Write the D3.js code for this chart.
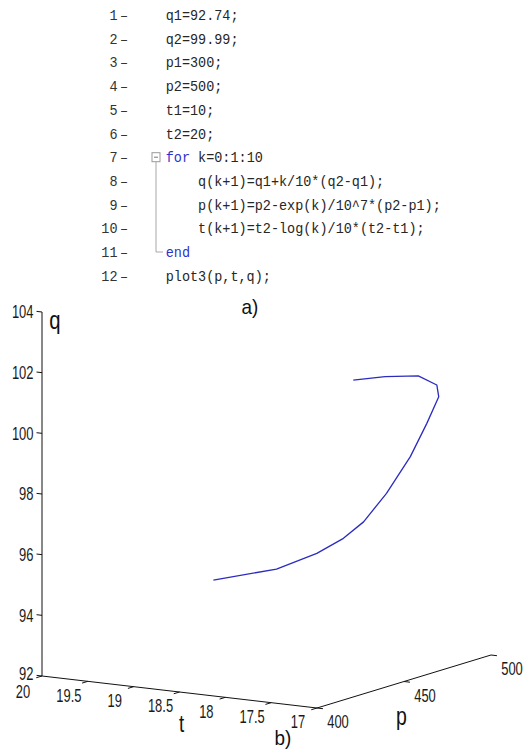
<!DOCTYPE html>
<html>
<head>
<meta charset="utf-8">
<script src="https://cdn.jsdelivr.net/npm/d3@7/dist/d3.min.js"></script>
<style>
  html, body { margin: 0; padding: 0; background: #fff; }
  svg { display: block; }
</style>
</head>
<body>
<script>
// ---- MATLAB listing (line text, keyword segments flagged) ----
const codeLines = [
  [["q1=92.74;", false]],
  [["q2=99.99;", false]],
  [["p1=300;", false]],
  [["p2=500;", false]],
  [["t1=10;", false]],
  [["t2=20;", false]],
  [["for", true], [" k=0:1:10", false]],
  [["    q(k+1)=q1+k/10*(q2-q1);", false]],
  [["    p(k+1)=p2-exp(k)/10^7*(p2-p1);", false]],
  [["    t(k+1)=t2-log(k)/10*(t2-t1);", false]],
  [["end", true]],
  [["plot3(p,t,q);", false]]
];

// ---- plotted trajectory (p, t, q) ----
const pVals = [498.5, 500, 500, 500, 500, 500, 500, 500, 500, 495.2, 481.9, 460.2, 439.3];
const tVals = [20.0, 19.34, 18.90, 18.61, 18.39, 18.14, 17.88, 17.70, 17.57, 17.50, 17.45, 17.40, 17.35];
const qVals = [93.44, 94.01, 94.68, 95.28, 95.90, 96.93, 98.23, 99.39, 100.31, 100.81, 101.36, 101.73, 102.0];

// ---- axis ticks ----
const qTicks = [92, 94, 96, 98, 100, 102, 104];
const tTicks = [20, 19.5, 19, 18.5, 18, 17.5, 17];
const tTickLabels = ["20", "19.5", "19", "18.5", "18", "17.5", "17"];
const pTicks = [400, 450, 500];
const pTickLabels = ["400", "450", "500"];

const W = 527, H = 751;
const svg = d3.select("body").append("svg").attr("width", W).attr("height", H);

const monoFont = "'Courier New', 'Nimbus Mono PS', 'Nimbus Mono L', FreeMono, 'Liberation Mono', monospace";

// ================= a) code listing =================
const codeX = 165.7, lineStep = 23.7, firstBase = 20;
const charW = 8.1, codeSX = 0.9;
const code = svg.append("g");

codeLines.forEach((segs, i) => {
  const y = firstBase + i * lineStep;
  // line number, right aligned, followed by the dash
  code.append("text")
    .attr("transform", `translate(117.5,${y}) scale(${codeSX},1)`)
    .attr("text-anchor", "end")
    .attr("font-family", monoFont)
    .attr("font-size", 15)
    .attr("fill", "#333")
    .text(String(i + 1));
  code.append("text")
    .attr("transform", `translate(120,${y}) scale(${codeSX},1)`)
    .attr("font-family", monoFont)
    .attr("font-size", 15)
    .attr("fill", "#333")
    .text("\u2013");

  let offset = 0;
  segs.forEach(([s, kw]) => {
    const lead = s.length - s.trimStart().length;
    const body = s.trimStart();
    code.append("text")
      .attr("transform", `translate(${codeX + (offset + lead) * charW},${y}) scale(${codeSX},1)`)
      .attr("font-family", monoFont)
      .attr("font-size", 15)
      .attr("fill", kw ? "#2f2fd0" : "#262626")
      .text(body);
    offset += s.length;
  });
});

// fold marker for the for-loop block
const y7 = firstBase + 6 * lineStep - 5, y11 = firstBase + 10 * lineStep - 5;
code.append("rect").attr("x", 152).attr("y", y7 - 4.5).attr("width", 8).attr("height", 9)
  .attr("fill", "#fff").attr("stroke", "#9a9a9a").attr("stroke-width", 1);
code.append("line").attr("x1", 154).attr("x2", 158).attr("y1", y7).attr("y2", y7)
  .attr("stroke", "#777").attr("stroke-width", 1);
code.append("path")
  .attr("d", `M156,${y7 + 4.5} L156,${y11} L163,${y11}`)
  .attr("fill", "none").attr("stroke", "#a8a8a8").attr("stroke-width", 1);

svg.append("text")
  .attr("transform", "translate(250,314) scale(0.9,1)")
  .attr("text-anchor", "middle")
  .attr("font-family", "Liberation Sans, Arial, sans-serif")
  .attr("font-size", 21)
  .attr("fill", "#111")
  .text("a)");

// ================= b) 3-D line plot =================
// oblique projection of the axes box
const O = [42, 676];      // corner at t=20, p=400, q=92
const Tv = [275, 32];     // screen offset across the t range
const Pv = [174, -53];    // screen offset across the p range
const Qv = [0, -364];     // screen offset across the q range

const tS = d3.scaleLinear().domain([20, 17]).range([0, 1]);
const pS = d3.scaleLinear().domain([400, 500]).range([0, 1]);
const qS = d3.scaleLinear().domain([92, 104]).range([0, 1]);

function proj(p, t, q) {
  const a = tS(t), b = pS(p), c = qS(q);
  return [O[0] + Tv[0] * a + Pv[0] * b + Qv[0] * c,
          O[1] + Tv[1] * a + Pv[1] * b + Qv[1] * c];
}
function unit(v, len) { const n = Math.hypot(v[0], v[1]); return [v[0] / n * len, v[1] / n * len]; }

const ax = svg.append("g").attr("stroke", "#111").attr("stroke-width", 1).attr("fill", "none");
const seg = (a, b) => ax.append("line").attr("x1", a[0]).attr("y1", a[1]).attr("x2", b[0]).attr("y2", b[1]);

// axis lines
seg(proj(400, 20, 92), proj(400, 20, 104));
seg(proj(400, 20, 92), proj(400, 17, 92));
seg(proj(400, 17, 92), proj(500, 17, 92));

const lblFont = "Liberation Sans, Arial, sans-serif";
function label(x, y, txt, anchor, size, sx) {
  svg.append("text")
    .attr("transform", `translate(${x},${y}) scale(${sx},1)`)
    .attr("text-anchor", anchor)
    .attr("dy", "0.36em")
    .attr("font-family", lblFont)
    .attr("font-size", size)
    .attr("fill", "#1a1a1a")
    .text(txt);
}

// q ticks (point away along -t)
const qTickV = unit([-Tv[0], -Tv[1]], 5.5);
qTicks.forEach(q => {
  const a = proj(400, 20, q);
  seg(a, [a[0] + qTickV[0], a[1] + qTickV[1]]);
  label(33.5, a[1] - (q === 92 ? 2 : 0), String(q), "end", 17.5, 0.74);
});

// t ticks (point away along -p)
const tTickV = unit([-Pv[0], -Pv[1]], 6);
tTicks.forEach((t, i) => {
  const a = proj(400, t, 92);
  seg(a, [a[0] + tTickV[0], a[1] + tTickV[1]]);
  label(a[0] - 19, a[1] + 14 + (i === 0 ? 2 : 0), tTickLabels[i], "middle", 17.5, 0.74);
});

// p ticks (point along +t direction)
const pTickV = unit(Tv, 6);
pTicks.forEach((p, i) => {
  const a = proj(p, 17, 92);
  seg(a, [a[0] + pTickV[0], a[1] + pTickV[1]]);
  label(a[0] + 21, a[1] + 14, pTickLabels[i], "middle", 17.5, 0.74);
});

// axis titles
function title(x, y, txt, size) {
  svg.append("text")
    .attr("transform", `translate(${x},${y}) scale(0.78,1)`)
    .attr("text-anchor", "middle")
    .attr("font-family", lblFont)
    .attr("font-size", size)
    .attr("fill", "#111")
    .text(txt);
}
title(55, 329, "q", 26);
title(181.5, 732, "t", 24);
title(401.5, 725, "p", 25);

// trajectory
const line = d3.line()
  .x((d, i) => proj(pVals[i], tVals[i], qVals[i])[0])
  .y((d, i) => proj(pVals[i], tVals[i], qVals[i])[1]);
svg.append("path")
  .datum(d3.range(pVals.length))
  .attr("d", line)
  .attr("fill", "none")
  .attr("stroke", "#2b2bc0")
  .attr("stroke-width", 1.3)
  .attr("stroke-linejoin", "round");

svg.append("text")
  .attr("transform", "translate(283,745) scale(0.9,1)")
  .attr("text-anchor", "middle")
  .attr("font-family", lblFont)
  .attr("font-size", 21)
  .attr("fill", "#111")
  .text("b)");
</script>
</body>
</html>
